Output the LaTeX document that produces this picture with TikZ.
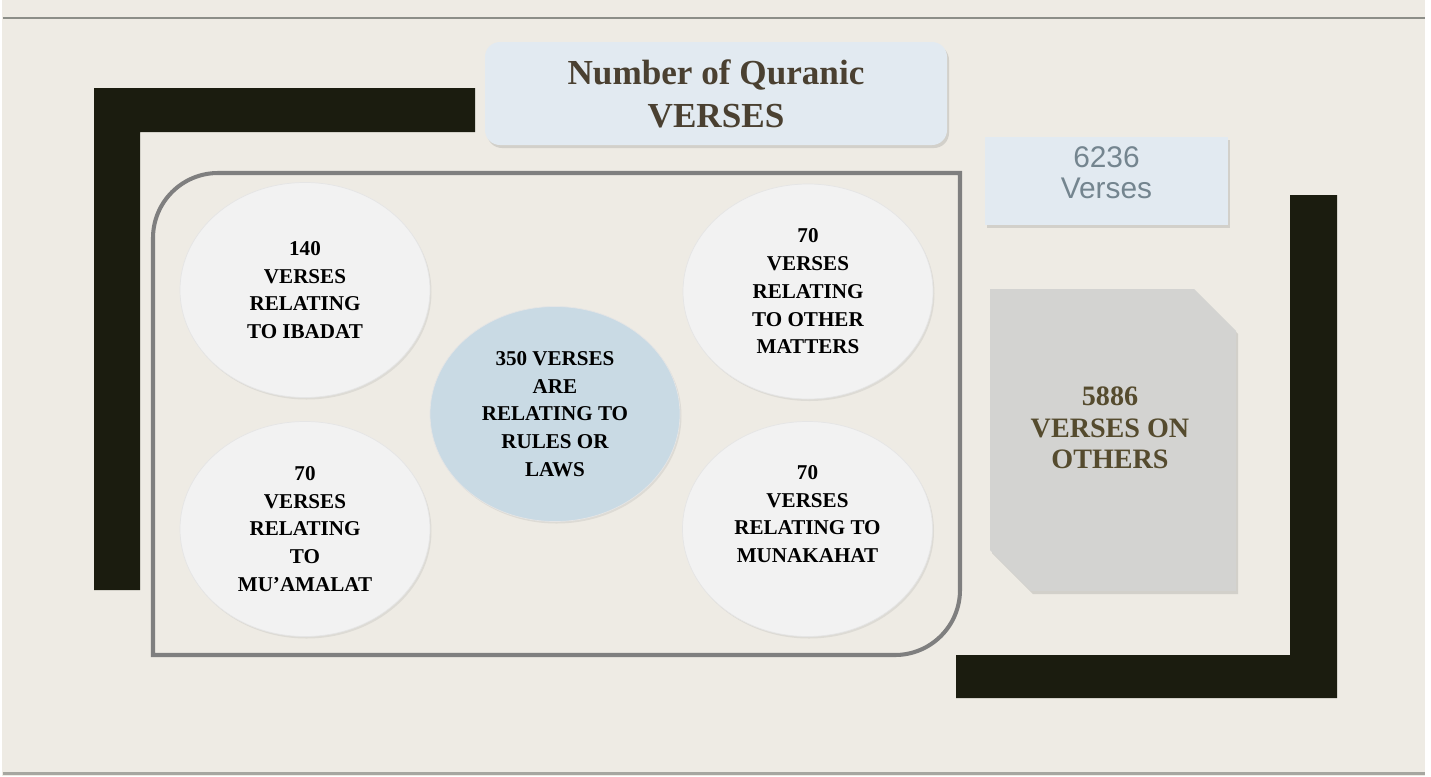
\documentclass[tikz,border=0pt]{standalone}
\usepackage{fontspec}
\setmainfont{Liberation Serif}
\setsansfont{Liberation Sans}
\usetikzlibrary{shapes.geometric,shadows}

\definecolor{page_bg}{HTML}{EEEBE4}
\definecolor{rule_top}{HTML}{8C8E88}
\definecolor{rule_bot}{HTML}{A6A6A0}
\definecolor{bar_dark}{HTML}{1B1C0F}
\definecolor{frame_gray}{HTML}{7F7F7F}
\definecolor{verse_l}{HTML}{F2F2F2}
\definecolor{verse_c}{HTML}{C9DAE4}
\definecolor{title_bg}{HTML}{E2EAF1}
\definecolor{title_txt}{HTML}{4A4031}
\definecolor{count_txt}{HTML}{74858F}
\definecolor{other_bg}{HTML}{D3D3D1}
\definecolor{other_txt}{HTML}{554B2E}

\begin{document}
\begin{tikzpicture}[
    verse/.style={ellipse, minimum width=5cm, minimum height=4.3cm,
      fill=verse_l, draw=black!10, inner sep=0pt, align=center, text=black,
      font=\fontsize{12}{15.8}\selectfont\bfseries,
      drop shadow={opacity=0.15, shadow xshift=0.03cm, shadow yshift=-0.04cm}},
    bar/.style={fill=bar_dark},
    boxshadow/.style={drop shadow={opacity=0.25, shadow xshift=0.04cm,
      shadow yshift=-0.06cm}}
  ]
    \useasboundingbox (0,0) rectangle (28.62,-15.52);
    \fill[page_bg] (0.04,0) rectangle (28.5,-15.52);
    \draw[rule_top, line width=1.7pt] (0.06,-0.36) -- (28.5,-0.36);
    \draw[rule_bot, line width=1.2pt] (0.06,-15.47) -- (28.5,-15.47);

    % dark corner brackets
    \fill[bar] (1.88,-1.76) -- (9.5,-1.76) -- (9.5,-2.64) -- (2.8,-2.64)
      -- (2.8,-11.8) -- (1.88,-11.8) -- cycle;
    \fill[bar] (25.8,-3.9) -- (26.74,-3.9) -- (26.74,-13.96) -- (19.12,-13.96)
      -- (19.12,-13.1) -- (25.8,-13.1) -- cycle;

    % frame round the five ellipses
    \draw[frame_gray, line width=2.3pt] (3.06,-13.1) -- (3.06,-4.76)
      arc[start angle=180, end angle=90, radius=1.3cm] -- (19.2,-3.46)
      -- (19.2,-11.8) arc[start angle=0, end angle=-90, radius=1.3cm] -- cycle;

    \node[rectangle, rounded corners=0.3cm, fill=title_bg, boxshadow,
      minimum width=9.24cm, minimum height=2.06cm, align=center, text=title_txt,
      font=\fontsize{20}{24.5}\selectfont\bfseries]
      (title) at (14.32,-1.87) {Number of Quranic\\VERSES};

    \node[rectangle, fill=title_bg, boxshadow, minimum width=4.86cm,
      minimum height=1.76cm, text=count_txt] (total) at (22.13,-3.62) {};
    \node[align=center, text=count_txt, font=\fontsize{17}{17.5}\selectfont\sffamily]
      (totaltxt) at (22.13,-3.45) {6236\\Verses};

    \fill[other_bg, boxshadow] (19.8,-5.78) -- (23.88,-5.78) -- (24.72,-6.62)
      -- (24.72,-11.82) -- (20.62,-11.82) -- (19.8,-11.0) -- cycle;
    \node[align=center, text=other_txt, font=\fontsize{16}{18}\selectfont\bfseries]
      (others) at (22.2,-8.56) {5886\\VERSES ON\\OTHERS};

    \node[verse] (ibadat) at (6.1,-5.8) {140\\VERSES\\RELATING\\TO IBADAT};
    \node[verse] (muamalat) at (6.1,-10.58)
      {70\\VERSES\\RELATING\\TO\\MU’AMALAT};
    \node[verse, fill=verse_c] (laws) at (11.1,-8.28)
      {350 VERSES\\ARE\\RELATING TO\\RULES OR\\LAWS};
    \node[verse] (matters) at (16.16,-5.83)
      {70\\VERSES\\RELATING\\TO OTHER\\MATTERS};
    \node[verse, text depth=0.6cm] (munakahat) at (16.15,-10.58)
      {70\\VERSES\\RELATING TO\\MUNAKAHAT};
  \end{tikzpicture}
\end{document}
